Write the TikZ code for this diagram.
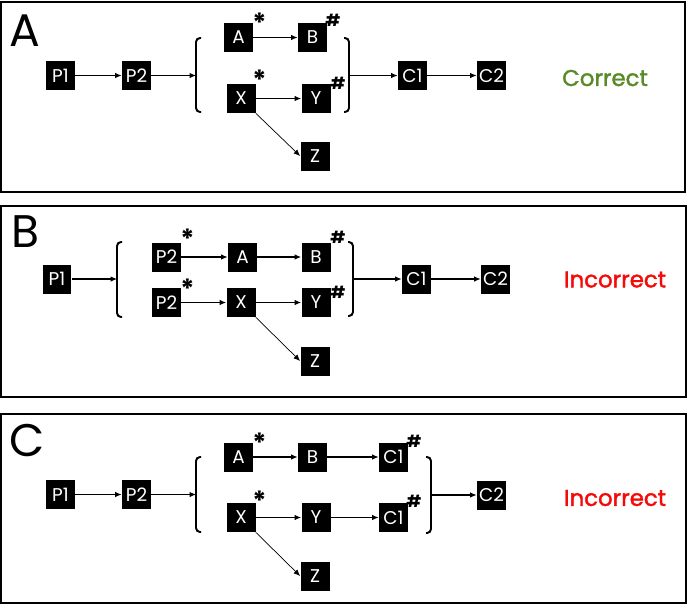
\documentclass[tikz,border=0pt]{standalone}
\usepackage{fontspec}
\setmainfont{Poppins}
\newfontfamily\heavyfont[FakeBold=1.6]{Poppins}
\usetikzlibrary{arrows.meta,calc}
\definecolor{okgreen}{RGB}{90,138,40}
\definecolor{badred}{RGB}{245,10,10}
\tikzset{
	>={Latex[length=1.3mm,width=1.1mm]},
	blk/.style={fill=black, text=white, minimum size=5.8mm, inner sep=0pt,
		font=\fontsize{10.5}{12}\selectfont},
	panel/.style={draw, line width=0.6pt},
	lnk/.style={->, line width=0.6pt},
	brk/.style={line width=1.1pt, rounded corners=0.8mm},
	mk/.style={inner sep=0pt, font=\bfseries\fontsize{9.5}{10}\selectfont},
	st/.style={inner sep=0pt, font=\bfseries\fontsize{15}{16}\selectfont},
	tag/.style={inner sep=0pt, font=\fontsize{26}{28}\selectfont},
	verdict/.style={inner sep=0pt, font=\heavyfont\fontsize{13}{15}\selectfont}
}
\begin{document}
\begin{tikzpicture}[x=0.02cm, y=-0.02cm]
	\useasboundingbox (0,0) rectangle (689,606);
	
	% panel frames
	\draw[panel] (1,2) rectangle (685,192);
	\draw[panel] (1,206) rectangle (686,397);
	\draw[panel] (1,414) rectangle (686,603);
	
	% ---------------- panel A ----------------
	\node[tag] (tA) at (24.5,31) {A};
	\node[blk] (aP1) at (60.5,75.5) {P1};
	\node[blk] (aP2) at (136.5,75.5) {P2};
	\node[blk] (aA) at (238.5,37.5) {A};
	\node[blk] (aB) at (312.5,37.5) {B};
	\node[blk] (aX) at (241,98.5) {X};
	\node[blk] (aY) at (316,98.5) {Y};
	\node[blk] (aZ) at (315,156) {Z};
	\node[blk] (aC1) at (412.5,75.5) {C1};
	\node[blk] (aC2) at (491.5,75.5) {C2};
	\node[st] (aAs) at (259.5,23) {*};
	\node[st] (aXs) at (259.5,80) {*};
	\node[mk] (aBh) at (333,20) {\#};
	\node[mk] (aYh) at (338,83) {\#};
	\node[verdict, text=okgreen] (vA) at (605,78) {Correct};
	% brackets
	\draw[brk] (201,38) -- (196,38) -- (196,112) -- (201,112);
	\draw[brk] (344,38) -- (349,38) -- (349,112) -- (344,112);
	\coordinate (aL) at (196,75.5);
	\coordinate (aR) at (349,75.5);
	\draw[lnk] (aP1) -- (aP2);
	\draw[lnk] (aP2) -- (aL);
	\draw[lnk] (aA) -- (aB);
	\draw[lnk] (aX) -- (aY);
	\draw[->, line width=0.4pt] (aX.south east) -- (aZ.west);
	\draw[lnk] (aR) -- (aC1);
	\draw[lnk] (aC1) -- (aC2);
	
	% ---------------- panel B ----------------
	\node[tag] (tB) at (25.5,231.5) {B};
	\node[blk] (bP1) at (57,279) {P1};
	\node[blk] (bP2t) at (166.5,257) {P2};
	\node[blk] (bP2b) at (166.5,302.5) {P2};
	\node[blk] (bA) at (242.5,257) {A};
	\node[blk] (bB) at (316,257) {B};
	\node[blk] (bX) at (241,302.5) {X};
	\node[blk] (bY) at (316,302.5) {Y};
	\node[blk] (bZ) at (315,361) {Z};
	\node[blk] (bC1) at (416.5,279) {C1};
	\node[blk] (bC2) at (495.5,279) {C2};
	\node[st] (bPts) at (187.5,239) {*};
	\node[st] (bPbs) at (187.5,289) {*};
	\node[mk] (bBh) at (338,237.5) {\#};
	\node[mk] (bYh) at (338,292.5) {\#};
	\node[verdict, text=badred] (vB) at (615,279.5) {Incorrect};
	% brackets
	\draw[brk] (122,242) -- (117,242) -- (117,317) -- (122,317);
	\draw[brk] (348,242) -- (353,242) -- (353,316) -- (348,316);
	\coordinate (bL) at (117,279);
	\coordinate (bR) at (353,279);
	\draw[lnk] (bP1) -- (bL);
	\draw[lnk] (bP2t) -- (bA);
	\draw[lnk] (bP2b) -- (bX);
	\draw[lnk] (bA) -- (bB);
	\draw[lnk] (bX) -- (bY);
	\draw[->, line width=0.4pt] (bX.south east) -- (bZ.west);
	\draw[lnk] (bR) -- (bC1);
	\draw[lnk] (bC1) -- (bC2);
	
	% ---------------- panel C ----------------
	\node[tag] (tC) at (27,440) {C};
	\node[blk] (cP1) at (60.5,494.5) {P1};
	\node[blk] (cP2) at (136.5,494.5) {P2};
	\node[blk] (cA) at (238.5,457) {A};
	\node[blk] (cB) at (312.5,457) {B};
	\node[blk] (cX) at (241,517.5) {X};
	\node[blk] (cY) at (316,517.5) {Y};
	\node[blk] (cZ) at (315,576) {Z};
	\node[blk] (cC1t) at (393.5,457) {C1};
	\node[blk] (cC1b) at (393.5,517.5) {C1};
	\node[blk] (cC2) at (491.5,495) {C2};
	\node[st] (cAs) at (259.5,443) {*};
	\node[st] (cXs) at (259.5,500.5) {*};
	\node[mk] (cC1th) at (414,441) {\#};
	\node[mk] (cC1bh) at (414,501) {\#};
	\node[verdict, text=badred] (vC) at (615,498) {Incorrect};
	% brackets
	\draw[brk] (201,457) -- (196,457) -- (196,532) -- (201,532);
	\draw[brk] (426,457) -- (431,457) -- (431,533) -- (426,533);
	\coordinate (cL) at (196,494.5);
	\coordinate (cR) at (431,495);
	\draw[lnk] (cP1) -- (cP2);
	\draw[lnk] (cP2) -- (cL);
	\draw[lnk] (cA) -- (cB);
	\draw[lnk] (cX) -- (cY);
	\draw[->, line width=0.4pt] (cX.south east) -- (cZ.west);
	\draw[lnk] (cB) -- (cC1t);
	\draw[lnk] (cY) -- (cC1b);
	\draw[lnk] (cR) -- (cC2);
\end{tikzpicture}
\end{document}
